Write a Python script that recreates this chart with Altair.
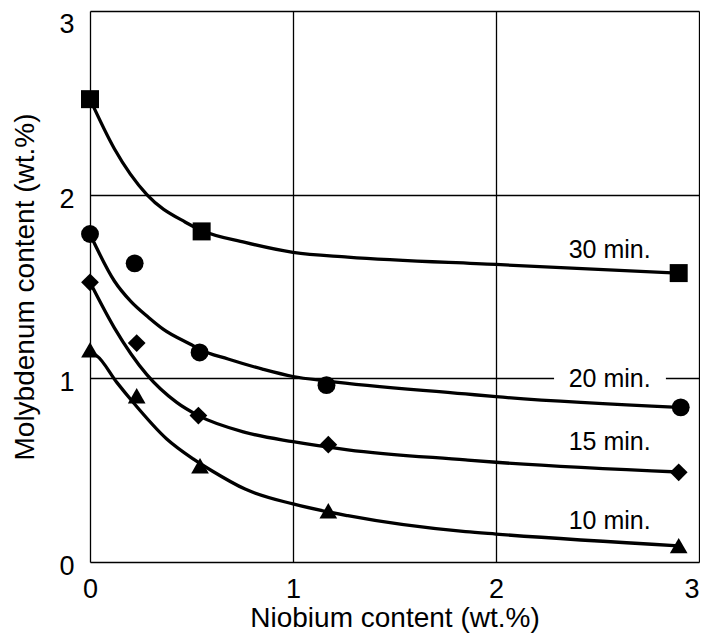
import altair as alt
import pandas as pd

# --- measured data points (Nb wt.%, Mo wt.%) ---
series_names = ["30 min.", "20 min.", "15 min.", "10 min."]
shapes = ["square", "circle", "diamond", "triangle-up"]

pts_30_x = [0.0, 0.55, 2.90]
pts_30_y = [2.52, 1.80, 1.573]
pts_20_x = [0.0, 0.22, 0.54, 1.165, 2.91]
pts_20_y = [1.786, 1.626, 1.141, 0.963, 0.842]
pts_15_x = [0.0, 0.23, 0.534, 1.174, 2.90]
pts_15_y = [1.523, 1.192, 0.797, 0.639, 0.488]
pts_10_x = [0.0, 0.23, 0.542, 1.174, 2.90]
pts_10_y = [1.155, 0.905, 0.524, 0.279, 0.089]

# --- fitted curves ---
fit_30_x = [0.0, 0.12, 0.28, 0.47, 0.55, 0.764, 1.0, 1.27, 2.0, 2.9]
fit_30_y = [2.52, 2.25, 2.0, 1.85, 1.805, 1.74, 1.686, 1.66, 1.62, 1.573]
fit_20_x = [0.0, 0.12, 0.2, 0.29, 0.36, 0.51, 0.542, 0.68, 0.85, 1.0, 1.17, 1.85, 2.0, 2.9]
fit_20_y = [1.786, 1.53, 1.42, 1.33, 1.268, 1.177, 1.157, 1.105, 1.05, 1.01, 0.985, 0.915, 0.9, 0.842]
fit_15_x = [0.0, 0.12, 0.28, 0.427, 0.534, 0.764, 1.0, 1.27, 1.85, 2.0, 2.9]
fit_15_y = [1.523, 1.275, 1.02, 0.869, 0.797, 0.706, 0.655, 0.611, 0.556, 0.543, 0.49]
fit_10_x = [0.0, 0.033, 0.132, 0.206, 0.378, 0.51, 0.6, 0.764, 1.0, 1.27, 1.85, 2.0, 2.9]
fit_10_y = [1.14, 1.123, 0.978, 0.878, 0.67, 0.56, 0.497, 0.397, 0.316, 0.252, 0.165, 0.152, 0.088]

# --- curve labels ---
label_x = [2.56, 2.56, 2.56, 2.56]
label_y = [1.70, 0.996, 0.652, 0.225]

x_ticks = [0, 1, 2, 3]
y_ticks = [0, 1, 2, 3]

FONT = "Liberation Sans"

pts = []
for name, xs, ys in zip(series_names,
                        [pts_30_x, pts_20_x, pts_15_x, pts_10_x],
                        [pts_30_y, pts_20_y, pts_15_y, pts_10_y]):
    for a, b in zip(xs, ys):
        pts.append({"series": name, "nb": a, "mo": b})
pts_df = pd.DataFrame(pts)

fits = []
for name, xs, ys in zip(series_names,
                        [fit_30_x, fit_20_x, fit_15_x, fit_10_x],
                        [fit_30_y, fit_20_y, fit_15_y, fit_10_y]):
    for i, (a, b) in enumerate(zip(xs, ys)):
        fits.append({"series": name, "nb": a, "mo": b, "order": i})
fit_df = pd.DataFrame(fits)

lab_df = pd.DataFrame({"series": series_names, "nb": label_x, "mo": label_y})
gap_df = pd.DataFrame({"x1": [2.286], "x2": [2.837], "y1": [0.94], "y2": [1.06]})

xscale = alt.Scale(domain=[0, 3], nice=False, zero=False)
yscale = alt.Scale(domain=[0, 3], nice=False, zero=False)

xaxis = alt.Axis(values=x_ticks, format="d", grid=True, gridColor="black", gridWidth=1.3,
                 gridOpacity=1, ticks=False, domain=False, labelFont=FONT, labelFontSize=27,
                 labelColor="black", labelPadding=14,
                 labelAlign={"condition": {"test": "datum.value == 3", "value": "right"}, "value": "center"},
                 title="Niobium content (wt.%)",
                 titleFont=FONT, titleFontSize=28, titleFontWeight="normal",
                 titleColor="black", titlePadding=2, labelFlush=False)
yaxis = alt.Axis(values=y_ticks, format="d", grid=True, gridColor="black", gridWidth=1.3,
                 gridOpacity=1, ticks=False, domain=False, labelFont=FONT, labelFontSize=27,
                 labelColor="black", labelPadding=16,
                 labelBaseline={"condition": {"test": "datum.value == 3", "value": "top"}, "value": "middle"},
                 labelOffset={"condition": {"test": "datum.value == 3", "value": 0}, "value": 4.5},
                 title="Molybdenum content (wt.%)",
                 titleFont=FONT, titleFontSize=28, titleFontWeight="normal",
                 titleColor="black", titlePadding=19, labelFlush=False)

base_x = alt.X("nb:Q", scale=xscale, axis=xaxis)
base_y = alt.Y("mo:Q", scale=yscale, axis=yaxis)

lines = alt.Chart(fit_df).mark_line(color="black", strokeWidth=3.3, interpolate="monotone").encode(
    x=base_x, y=base_y, detail="series:N", order="order:Q")

gap = alt.Chart(gap_df).mark_rect(color="white").encode(
    x=alt.X("x1:Q", scale=xscale), x2="x2:Q",
    y=alt.Y("y1:Q", scale=yscale), y2="y2:Q")

points = alt.Chart(pts_df).mark_point(filled=True, color="black", opacity=1).encode(
    x=alt.X("nb:Q", scale=xscale),
    y=alt.Y("mo:Q", scale=yscale),
    shape=alt.Shape("series:N", scale=alt.Scale(domain=series_names, range=shapes), legend=None),
    size=alt.Size("series:N", scale=alt.Scale(domain=series_names, range=[324, 313, 441, 470]), legend=None),
)

labels = alt.Chart(lab_df).mark_text(font=FONT, fontSize=25, color="black", align="center",
                                     baseline="middle").encode(
    x=alt.X("nb:Q", scale=xscale), y=alt.Y("mo:Q", scale=yscale), text="series:N")

chart = alt.layer(lines, gap, labels, points).properties(
    width=609, height=551,
    autosize=alt.AutoSizeParams(type="none"),
    padding={"left": 82, "top": 3, "right": 1, "bottom": 74},
).configure_view(stroke="black", strokeWidth=2).configure(background="white")

chart.save("out.html", embed_options={"renderer": "svg", "actions": False})
